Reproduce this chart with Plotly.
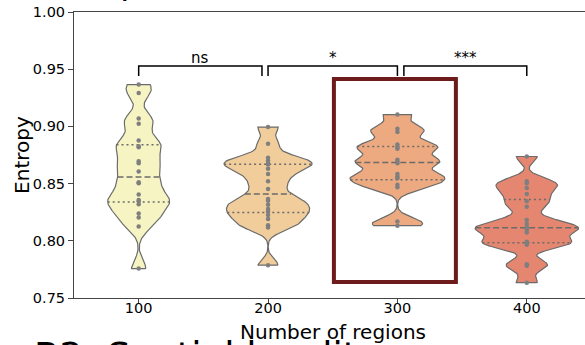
import numpy as np
import plotly.graph_objects as go

# Number of regions (categories) and per-subject entropy values
categories = ["100", "200", "300", "400"]

entropy_100 = [0.7757, 0.8125, 0.8204, 0.8239, 0.8320, 0.8345, 0.8357, 0.8404,
               0.8503, 0.8511, 0.8605, 0.8678, 0.8696, 0.8818, 0.8827, 0.8877,
               0.9024, 0.9068, 0.9292, 0.9366]
entropy_200 = [0.7787, 0.8116, 0.8137, 0.8190, 0.8225, 0.8254, 0.8278, 0.8316,
               0.8351, 0.8366, 0.8453, 0.8520, 0.8585, 0.8629, 0.8667, 0.8678,
               0.8702, 0.8725, 0.8848, 0.8994]
entropy_300 = [0.8132, 0.8169, 0.8468, 0.8491, 0.8547, 0.8561, 0.8585, 0.8678,
               0.8693, 0.8708, 0.8804, 0.8818, 0.8842, 0.8950, 0.8980, 0.9103]
entropy_400 = [0.7634, 0.7781, 0.7796, 0.7965, 0.7976, 0.7985, 0.7991, 0.8073,
               0.8094, 0.8110, 0.8117, 0.8146, 0.8182, 0.8298, 0.8345, 0.8409,
               0.8462, 0.8503, 0.8520, 0.8737]

groups = [entropy_100, entropy_200, entropy_300, entropy_400]
fill_colors = ["#f6f4c3", "#f0cd9b", "#edaa80", "#e48670"]

# Pairwise comparisons: (x start, x end, label)
comparisons = [(0.0, 0.953, "ns"), (1.0, 2.0, "*"), (2.05, 3.0, "***")]
bracket_top = 0.9528
bracket_foot = 0.9440

# Highlighted category box (data coordinates)
highlight = dict(x0=1.509, x1=2.452, y0=0.764, y1=0.9414)

# Panel captions above and below this panel
caption_above = "B1: Spatial scale (SS)"
caption_below = "B2: Spatial locality"

BW = 0.18         # kernel bandwidth factor (relative to sample std)
HALF_WIDTH = 0.4  # max half-width of the widest violin
GRID = 200

FONT = "DejaVu Sans"
LINE_GRAY = "#6b6b6b"
DOT_GRAY = "#7f7f7f"


def kde(vals, grid, factor):
    vals = np.asarray(vals)
    h = factor * vals.std(ddof=1)
    z = (grid[:, None] - vals[None, :]) / h
    return np.exp(-0.5 * z ** 2).sum(axis=1) / (len(vals) * h * np.sqrt(2 * np.pi))


supports, densities = [], []
for vals in groups:
    grid = np.linspace(min(vals), max(vals), GRID)
    supports.append(grid)
    densities.append(kde(vals, grid, BW))
scale = HALF_WIDTH / max(d.max() for d in densities)

fig = go.Figure()

for i, (vals, grid, dens) in enumerate(zip(groups, supports, densities)):
    half = dens * scale
    xs = np.concatenate([i + half, (i - half)[::-1], [i + half[0]]])
    ys = np.concatenate([grid, grid[::-1], [grid[0]]])
    fig.add_trace(go.Scatter(x=xs, y=ys, mode="lines", fill="toself",
                             fillcolor=fill_colors[i],
                             line=dict(color=LINE_GRAY, width=1.2),
                             hoverinfo="skip", showlegend=False))
    # quartile lines spanning the violin body
    q1, q2, q3 = np.percentile(vals, [25, 50, 75])
    for q, dash in [(q1, "2px,3px"), (q2, "6px,3px"), (q3, "2px,3px")]:
        w = np.interp(q, grid, half)
        fig.add_trace(go.Scatter(x=[i - w, i + w], y=[q, q], mode="lines",
                                 line=dict(color=LINE_GRAY, width=1.5, dash=dash),
                                 hoverinfo="skip", showlegend=False))

for i, vals in enumerate(groups):
    fig.add_trace(go.Scatter(x=[i] * len(vals), y=vals, mode="markers",
                             marker=dict(color=DOT_GRAY, size=4.5),
                             hoverinfo="skip", showlegend=False))

# significance brackets
for x0, x1, label in comparisons:
    fig.add_trace(go.Scatter(x=[x0, x0, x1, x1],
                             y=[bracket_foot, bracket_top, bracket_top, bracket_foot],
                             mode="lines", line=dict(color="black", width=1.5),
                             hoverinfo="skip", showlegend=False))
    fig.add_annotation(x=(x0 + x1) / 2, y=bracket_top, text=label, showarrow=False,
                       xanchor="center", yanchor="bottom", yshift=-3,
                       font=dict(family=FONT, size=15, color="black"))

fig.add_shape(type="rect", xref="x", yref="y", **highlight,
              line=dict(color="#6e1b1b", width=4), fillcolor="rgba(0,0,0,0)")

fig.update_xaxes(range=[-0.5, 3.45], tickmode="array", tickvals=[0, 1, 2, 3],
                 ticktext=categories, showline=True, linecolor="#444444",
                 linewidth=1, mirror=True, ticks="outside", ticklen=4,
                 tickcolor="#444444", showgrid=False, zeroline=False,
                 ticklabelstandoff=-7,
                 tickfont=dict(family=FONT, size=14.5, color="black"))
fig.update_yaxes(range=[0.75, 1.0], tickmode="array",
                 tickvals=[0.75, 0.80, 0.85, 0.90, 0.95, 1.00],
                 ticktext=["0.75", "0.80", "0.85", "0.90", "0.95", "1.00"],
                 showline=True, linecolor="#444444", linewidth=1, mirror=False,
                 ticks="outside", ticklen=5, tickcolor="#444444",
                 showgrid=False, zeroline=False,
                 tickfont=dict(family=FONT, size=14.5, color="black"))

# axis titles
fig.add_annotation(xref="paper", yref="paper", x=0.507, y=-0.118,
                   text="Number of regions", showarrow=False,
                   xanchor="center", yanchor="middle",
                   font=dict(family=FONT, size=20, color="black"))
fig.add_annotation(xref="paper", yref="paper", x=-0.102, y=0.5,
                   text="Entropy", showarrow=False, textangle=-90,
                   xanchor="center", yanchor="middle",
                   font=dict(family=FONT, size=20, color="black"))

# panel captions, only their edges fall inside the page
fig.add_annotation(xref="paper", yref="paper", x=-0.082, y=1.0, yshift=8,
                   text=caption_above, showarrow=False,
                   xanchor="left", yanchor="bottom",
                   font=dict(family=FONT, size=33, color="black"))
fig.add_annotation(xref="paper", yref="paper", x=-0.082, y=0.0, yshift=-82,
                   text=caption_below, showarrow=False,
                   xanchor="left", yanchor="bottom",
                   font=dict(family=FONT, size=37, color="black"))

fig.update_layout(width=585, height=345,
                  margin=dict(l=74, r=0, t=12, b=47),
                  plot_bgcolor="white", paper_bgcolor="white",
                  font=dict(family=FONT))

fig.write_html("out.html")
